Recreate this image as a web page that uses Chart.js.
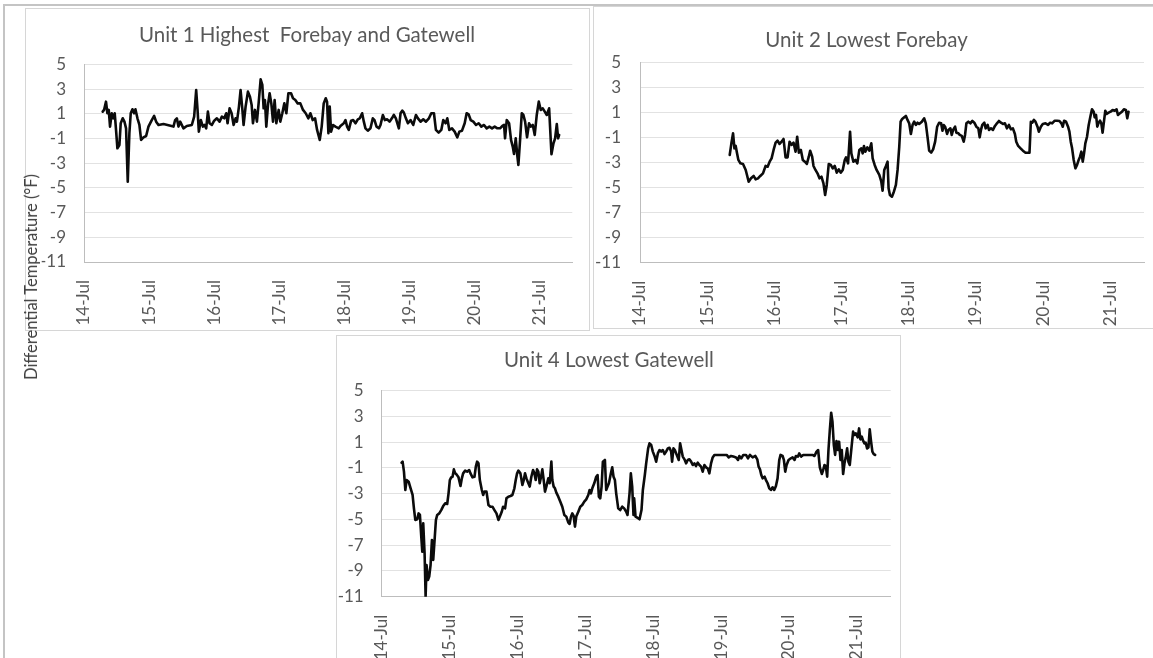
<!DOCTYPE html>
<html>
<head>
<meta charset="utf-8">
<script src="https://cdn.jsdelivr.net/npm/chart.js@4.4.1/dist/chart.umd.min.js"></script>
<style>
  html, body { margin: 0; padding: 0; background: #fff; overflow: hidden; }
  #page { position: relative; width: 1153px; height: 658px; overflow: hidden; background: #fff; font-family: Lato, sans-serif; }
  .rule { position: absolute; background: #c4c4c4; }
  .frame { position: absolute; box-sizing: border-box; border: 1px solid #d6d6d6; background: #fff; }
  canvas { position: absolute; }
  #ytitle { position: absolute; left: 31px; top: 277px; transform: translate(-50%, -50%) rotate(-90deg);
            white-space: nowrap; font-size: 16.5px; color: #404040; font-family: Lato, sans-serif; }
</style>
</head>
<body>
<div id="page">
  <div class="rule" style="left:4px; top:4px; width:1149px; height:2px;"></div>
  <div class="rule" style="left:3px; top:4px; width:2px; height:654px;"></div>

  <div class="frame" style="left:25px; top:8px; width:565px; height:323px;"></div>
  <div class="frame" style="left:593px; top:6px; width:600px; height:323px;"></div>
  <div class="frame" style="left:336px; top:335px; width:565px; height:340px;"></div>

  <canvas id="unit1" width="564" height="322" style="left:25px; top:8px;"></canvas>
  <canvas id="unit2" width="573" height="320" style="left:580px; top:8px;"></canvas>
  <canvas id="unit4" width="582" height="323" style="left:318px; top:335px;"></canvas>

  <div id="ytitle">Differential Temperature (°F)</div>
</div>

<script>
// Axis labels
const tickDates = ['14-Jul', '15-Jul', '16-Jul', '17-Jul', '18-Jul', '19-Jul', '20-Jul', '21-Jul'];
const yTicks = [5, 3, 1, -1, -3, -5, -7, -9, -11];
const chartTitles = ['Unit 1 Highest  Forebay and Gatewell', 'Unit 2 Lowest Forebay', 'Unit 4 Lowest Gatewell'];

// Unit 1: days after 14-Jul 00:00, differential temperature (°F)
const unit1Day = [
  0.287,0.308,0.338,0.359,0.380,0.400,0.426,0.451,0.472,0.492,
  0.513,0.544,0.564,0.595,0.621,0.646,0.672,0.697,0.718,0.744,
  0.769,0.790,0.821,0.851,0.877,0.913,0.954,0.990,1.041,1.077,
  1.108,1.144,1.221,1.298,1.374,1.400,1.426,1.451,1.477,1.528,
  1.579,1.656,1.692,1.723,1.744,1.764,1.795,1.826,1.851,1.877,
  1.903,1.928,1.964,2.000,2.041,2.082,2.118,2.154,2.185,2.205,
  2.236,2.267,2.298,2.328,2.349,2.380,2.405,2.431,2.451,2.482,
  2.518,2.549,2.575,2.595,2.626,2.656,2.682,2.713,2.739,2.759,
  2.779,2.800,2.826,2.851,2.877,2.903,2.928,2.954,2.990,3.015,
  3.046,3.077,3.108,3.139,3.180,3.210,3.246,3.282,3.323,3.364,
  3.405,3.446,3.477,3.513,3.549,3.580,3.621,3.651,3.682,3.713,
  3.733,3.754,3.774,3.795,3.826,3.862,3.913,3.939,3.990,4.016,
  4.041,4.067,4.103,4.134,4.170,4.206,4.236,4.272,4.298,4.323,
  4.359,4.400,4.436,4.462,4.493,4.529,4.554,4.590,4.621,4.657,
  4.693,4.729,4.759,4.790,4.836,4.862,4.888,4.913,4.944,4.975,
  5.016,5.057,5.098,5.129,5.170,5.211,5.252,5.298,5.334,5.375,
  5.405,5.447,5.488,5.518,5.554,5.580,5.611,5.652,5.693,5.734,
  5.765,5.806,5.847,5.877,5.908,5.939,5.980,6.021,6.062,6.103,
  6.144,6.185,6.226,6.267,6.308,6.349,6.390,6.426,6.452,6.467,
  6.493,6.529,6.559,6.585,6.605,6.631,6.657,6.672,6.698,6.724,
  6.749,6.775,6.805,6.836,6.862,6.893,6.923,6.954,6.985,7.015,
  7.046,7.077,7.108,7.144,7.180,7.211,7.236,7.262,7.282,7.298
];
const unit1Temp = [
  1.18,1.32,1.99,1.05,1.32,-0.03,1.05,0.64,1.05,-0.30,
  -1.79,-1.52,0.24,0.64,0.37,-0.17,-4.49,-0.57,1.05,1.37,
  1.05,1.37,0.64,0.10,-1.11,-0.90,-0.79,-0.03,0.50,0.83,
  0.37,0.10,0.18,0.07,-0.03,0.50,0.64,-0.03,0.37,-0.17,
  0.02,0.10,0.78,2.93,1.32,-0.44,0.50,-0.03,0.10,-0.17,
  1.18,0.24,0.10,0.45,0.64,0.37,0.78,0.64,1.05,0.24,
  1.45,1.05,0.10,0.64,0.37,1.59,2.93,1.45,0.10,1.59,
  2.80,2.39,1.72,0.24,1.32,0.37,1.85,3.80,3.34,1.45,
  2.12,-0.03,1.72,2.67,1.85,0.37,2.12,0.24,1.32,0.37,
  1.05,1.85,1.05,2.67,2.67,2.26,2.12,1.85,1.85,1.32,
  1.05,0.64,1.05,0.50,0.64,-0.30,-1.11,-0.03,1.85,2.26,
  1.99,-0.57,1.59,-0.44,0.10,-0.03,-0.17,0.02,0.24,0.50,
  -0.03,-0.30,0.45,0.50,0.24,0.56,0.64,1.05,0.37,-0.17,
  -0.36,-0.17,0.64,0.50,-0.03,-0.17,0.10,0.91,0.50,0.56,
  0.37,0.64,0.91,0.64,-0.17,1.05,1.26,1.10,0.64,0.24,
  0.50,0.10,0.91,0.64,0.37,0.56,0.37,0.64,1.05,1.05,
  -0.30,-0.52,-0.30,0.50,0.24,0.64,-0.30,-0.17,-0.44,-0.90,
  -0.44,-0.36,0.24,1.05,0.96,0.50,0.37,0.10,0.24,-0.03,
  0.10,-0.17,-0.03,-0.17,-0.03,-0.17,-0.17,0.02,0.10,-0.98,
  0.50,0.24,-1.11,-1.65,-2.25,-0.98,-2.46,-3.14,-1.11,1.05,
  0.91,0.37,-0.90,0.24,-0.03,0.10,-0.71,0.91,1.99,1.32,
  1.45,1.18,0.91,1.45,-2.27,-1.38,-0.98,0.18,-0.98,-0.71
];

// Unit 2
const unit2Day = [
  1.335,1.360,1.385,1.405,1.424,1.444,1.464,1.494,1.533,1.573,
  1.592,1.617,1.652,1.691,1.721,1.756,1.790,1.830,1.869,1.899,
  1.929,1.958,1.988,2.018,2.047,2.077,2.107,2.136,2.166,2.196,
  2.226,2.255,2.285,2.315,2.339,2.364,2.394,2.423,2.453,2.483,
  2.512,2.532,2.562,2.582,2.611,2.641,2.671,2.700,2.730,2.755,
  2.779,2.809,2.839,2.868,2.898,2.928,2.958,2.987,3.017,3.047,
  3.066,3.096,3.126,3.145,3.175,3.205,3.234,3.264,3.294,3.314,
  3.333,3.353,3.383,3.412,3.442,3.462,3.492,3.521,3.561,3.591,
  3.610,3.635,3.660,3.684,3.699,3.719,3.749,3.778,3.808,3.833,
  3.858,3.878,3.897,3.932,3.957,3.981,4.006,4.031,4.056,4.080,
  4.105,4.130,4.154,4.194,4.229,4.253,4.278,4.303,4.333,4.362,
  4.392,4.422,4.451,4.481,4.501,4.520,4.540,4.570,4.590,4.619,
  4.639,4.659,4.689,4.708,4.738,4.758,4.788,4.817,4.837,4.857,
  4.886,4.916,4.946,4.975,5.005,5.035,5.055,5.074,5.094,5.124,
  5.144,5.173,5.193,5.223,5.252,5.282,5.312,5.341,5.371,5.401,
  5.430,5.460,5.490,5.519,5.549,5.579,5.599,5.628,5.663,5.698,
  5.737,5.777,5.796,5.816,5.836,5.861,5.885,5.915,5.935,5.965,
  5.994,6.034,6.073,6.103,6.133,6.172,6.207,6.242,6.271,6.291,
  6.311,6.340,6.370,6.390,6.410,6.430,6.454,6.479,6.504,6.528,
  6.548,6.568,6.588,6.608,6.627,6.652,6.677,6.707,6.726,6.751,
  6.766,6.786,6.805,6.825,6.845,6.865,6.884,6.904,6.924,6.944,
  6.973,7.003,7.033,7.063,7.092,7.112,7.142,7.172,7.201,7.231,
  7.251,7.270
];
const unit2Temp = [
  -2.38,-1.45,-0.65,-1.85,-1.66,-2.25,-2.78,-3.05,-3.10,-3.58,
  -3.98,-4.52,-4.25,-4.06,-4.33,-4.25,-4.06,-3.85,-3.26,-3.32,
  -2.92,-2.65,-1.98,-1.40,-1.24,-1.50,-1.32,-1.10,-2.57,-2.57,
  -1.32,-1.58,-1.40,-2.12,-0.92,-2.20,-1.98,-2.78,-2.92,-3.10,
  -2.52,-2.04,-2.52,-3.26,-3.58,-3.85,-4.25,-4.12,-4.65,-5.58,
  -4.78,-3.10,-3.18,-3.45,-3.26,-3.80,-3.53,-3.80,-3.58,-2.78,
  -2.57,-3.05,-0.52,-2.25,-2.92,-2.78,-3.05,-1.98,-1.85,-2.25,
  -1.66,-2.12,-1.77,-2.04,-1.45,-2.65,-3.18,-3.58,-3.98,-4.52,
  -5.24,-3.58,-3.26,-2.92,-5.05,-5.58,-5.72,-5.32,-4.78,-3.58,
  -1.72,0.28,0.47,0.63,0.74,0.42,0.15,-0.70,0.02,0.28,
  0.02,0.20,0.10,0.28,0.55,0.15,-0.92,-2.04,-2.20,-1.93,
  -1.32,-0.12,0.20,0.15,-0.44,0.02,-0.12,-0.70,-0.38,-0.25,
  -0.78,-0.38,-0.12,-0.60,-0.65,-0.78,-0.86,-1.32,-0.78,0.15,
  0.28,0.15,0.34,0.20,-0.12,-0.25,-0.97,-0.38,0.02,0.20,
  -0.25,0.02,-0.38,-0.25,-0.38,-0.06,0.15,0.34,0.20,0.10,
  0.15,-0.25,0.02,-0.33,-0.25,-0.70,-1.32,-1.66,-1.85,-2.04,
  -2.20,-2.20,-2.20,0.28,0.20,0.42,0.28,-0.12,-0.52,-0.12,
  0.10,0.15,0.02,0.20,0.15,0.36,0.36,0.34,0.15,-0.12,
  0.36,0.28,-0.12,-0.52,-1.32,-1.85,-2.78,-3.45,-3.18,-2.78,
  -2.52,-2.12,-2.92,-2.25,-1.45,-0.92,0.02,0.82,1.27,1.08,
  0.63,0.82,-0.12,0.20,0.36,0.15,-0.60,0.28,1.16,0.90,
  1.00,1.08,1.22,1.16,1.27,0.82,0.95,1.08,1.27,1.22,
  0.55,1.08
];

// Unit 4
const unit4Day = [
  0.294,0.308,0.328,0.348,0.367,0.397,0.426,0.455,0.475,0.495,
  0.524,0.544,0.563,0.583,0.598,0.612,0.632,0.647,0.661,0.681,
  0.700,0.720,0.740,0.759,0.779,0.799,0.818,0.848,0.877,0.906,
  0.936,0.965,0.985,1.004,1.024,1.044,1.063,1.083,1.102,1.132,
  1.161,1.181,1.200,1.230,1.259,1.289,1.308,1.338,1.367,1.387,
  1.406,1.426,1.446,1.475,1.495,1.514,1.544,1.573,1.602,1.632,
  1.661,1.691,1.720,1.750,1.769,1.789,1.818,1.838,1.867,1.897,
  1.926,1.955,1.975,1.995,2.014,2.044,2.073,2.093,2.112,2.132,
  2.161,2.181,2.205,2.230,2.250,2.269,2.289,2.308,2.328,2.348,
  2.367,2.387,2.406,2.426,2.455,2.475,2.500,2.514,2.534,2.553,
  2.573,2.602,2.632,2.661,2.691,2.720,2.750,2.769,2.789,2.808,
  2.828,2.848,2.867,2.897,2.926,2.955,2.985,3.014,3.044,3.063,
  3.083,3.103,3.132,3.161,3.181,3.200,3.220,3.240,3.259,3.289,
  3.308,3.328,3.348,3.377,3.397,3.416,3.436,3.455,3.485,3.514,
  3.544,3.573,3.603,3.622,3.652,3.671,3.691,3.710,3.720,3.740,
  3.759,3.779,3.799,3.828,3.848,3.877,3.897,3.926,3.946,3.971,
  3.995,4.020,4.044,4.069,4.093,4.118,4.142,4.167,4.191,4.216,
  4.240,4.265,4.279,4.299,4.319,4.348,4.377,4.397,4.417,4.436,
  4.461,4.485,4.510,4.534,4.559,4.583,4.608,4.632,4.657,4.681,
  4.706,4.730,4.755,4.779,4.804,4.828,4.853,4.877,4.902,4.951,
  5.000,5.049,5.083,5.113,5.147,5.181,5.221,5.250,5.270,5.299,
  5.328,5.368,5.397,5.426,5.466,5.505,5.534,5.554,5.574,5.593,
  5.613,5.642,5.662,5.686,5.711,5.735,5.760,5.784,5.809,5.833,
  5.858,5.877,5.907,5.926,5.946,5.966,5.995,6.029,6.054,6.083,
  6.103,6.132,6.152,6.181,6.211,6.250,6.299,6.348,6.377,6.407,
  6.431,6.456,6.485,6.505,6.524,6.544,6.564,6.583,6.603,6.623,
  6.642,6.662,6.681,6.701,6.721,6.740,6.760,6.779,6.799,6.819,
  6.838,6.858,6.877,6.897,6.926,6.946,6.966,6.985,7.015,7.034,
  7.054,7.074,7.093,7.113,7.132,7.152,7.172,7.191,7.211,7.230,
  7.250,7.270
];
const unit4Temp = [
  -0.59,-0.51,-1.29,-2.71,-1.94,-2.07,-2.58,-3.10,-4.14,-5.04,
  -4.99,-4.53,-4.65,-6.34,-7.50,-5.30,-7.63,-11.0,-8.54,-9.70,
  -9.44,-8.54,-6.60,-8.15,-6.60,-5.04,-4.65,-4.53,-4.27,-3.96,
  -3.75,-3.80,-2.97,-1.94,-1.73,-1.68,-1.11,-1.42,-1.50,-1.73,
  -2.40,-1.81,-1.42,-1.21,-1.29,-1.16,-1.42,-1.73,-1.68,-0.90,
  -0.51,-0.64,-1.94,-2.71,-3.10,-2.84,-2.84,-3.88,-4.01,-4.01,
  -4.27,-4.53,-5.04,-4.65,-4.40,-4.01,-4.14,-3.36,-3.23,-3.18,
  -3.10,-2.58,-1.94,-1.42,-1.21,-1.42,-2.32,-1.94,-1.42,-1.81,
  -2.19,-2.45,-1.68,-1.16,-1.42,-1.94,-1.11,-1.29,-2.19,-1.68,
  -1.11,-1.94,-2.84,-2.45,-1.81,-2.19,-0.51,-1.94,-2.45,-2.58,
  -2.92,-3.23,-3.62,-4.01,-4.65,-4.78,-5.25,-5.35,-4.78,-4.53,
  -4.73,-5.56,-4.78,-4.40,-4.01,-3.88,-3.62,-3.44,-3.10,-2.71,
  -2.97,-2.58,-2.19,-1.68,-1.55,-3.23,-3.36,-2.45,-0.51,-0.38,
  -2.71,-2.45,-2.19,-1.42,-0.95,-1.68,-1.94,-2.97,-4.14,-4.27,
  -4.01,-4.14,-4.40,-4.65,-2.97,-1.42,-2.45,-4.65,-3.36,-4.78,
  -4.84,-4.91,-4.99,-4.27,-2.71,-1.55,-0.64,0.52,0.91,0.78,
  0.27,-0.07,-0.51,0.13,0.39,0.27,0.39,0.08,0.27,0.52,
  0.57,0.27,-0.51,0.52,0.39,0.01,-0.38,0.91,0.39,-0.12,
  -0.33,-0.64,-0.38,-0.33,-0.51,-0.77,-0.64,-0.85,-0.59,-0.77,
  -0.90,-1.29,-0.77,-0.95,-1.03,-1.42,-0.64,-0.18,0.01,0.01,
  0.01,0.01,0.01,-0.18,-0.07,-0.12,-0.18,-0.38,-0.07,-0.25,
  0.01,0.01,-0.25,0.01,-0.18,-0.07,-0.33,-0.90,-1.11,-1.55,
  -1.81,-1.68,-1.94,-2.19,-2.58,-2.71,-2.50,-2.71,-2.40,-1.81,
  -0.38,0.01,-0.07,-0.38,-1.29,-0.77,-0.38,-0.25,-0.18,-0.38,
  -0.07,-0.12,0.13,-0.12,0.01,0.01,0.01,0.01,-0.07,0.27,
  0.39,-0.95,-1.47,-1.16,-0.77,-0.85,-1.68,0.39,1.95,3.29,
  2.59,0.78,0.01,1.09,0.39,1.04,-0.38,0.39,-1.47,-0.64,
  -0.18,0.52,-0.51,-0.77,0.78,1.82,1.56,1.69,1.38,2.07,
  1.22,1.43,1.12,0.91,0.96,0.52,0.60,2.00,1.04,0.27,
  0.08,0.01
];

const FONT = 'Lato';
const TEXT = '#595959';
const GRID = '#e2e2e2';
const AXIS = '#bdbdbd';

// geo: plot-area edges inside the canvas (plotLeft, padRight) and title placement.
// Equal left/right layout padding keeps the title centred on the canvas.
function buildChart(id, days, temps, title, geo) {
  const points = days.map((d, i) => ({ x: d, y: temps[i] }));
  return new Chart(document.getElementById(id), {
    type: 'line',
    data: {
      datasets: [{
        data: points,
        borderColor: '#0b0b0b',
        borderWidth: 2.6,
        borderJoinStyle: 'round',
        borderCapStyle: 'round',
        pointRadius: 0,
        tension: 0,
        fill: false
      }]
    },
    options: {
      responsive: false,
      animation: false,
      events: [],
      layout: { padding: { left: geo.padRight, right: geo.padRight, top: 0, bottom: 0 } },
      plugins: {
        legend: { display: false },
        tooltip: { enabled: false },
        title: {
          display: true,
          text: title,
          color: TEXT,
          font: { family: FONT, size: 20.5, weight: 'normal', lineHeight: 1.2 },
          padding: { top: geo.titleTop, bottom: geo.titleBottom }
        }
      },
      scales: {
        x: {
          type: 'linear',
          min: 0,
          max: 7.5,
          grid: { display: false },
          border: { display: true, color: AXIS, width: 1 },
          ticks: {
            autoSkip: false,
            minRotation: 90,
            maxRotation: 90,
            padding: 10,
            color: TEXT,
            font: { family: FONT, size: 17 },
            callback: (v) => tickDates[v]
          },
          afterBuildTicks: (s) => { s.ticks = tickDates.map((_, i) => ({ value: i })); },
          afterFit: (s) => { s.height = geo.axisHeight; }
        },
        y: {
          min: yTicks[yTicks.length - 1],
          max: yTicks[0],
          grid: { color: GRID, lineWidth: 1, drawTicks: false },
          border: { display: true, color: AXIS, width: 1 },
          ticks: {
            padding: geo.labelGap,
            color: TEXT,
            font: { family: FONT, size: 17 }
          },
          afterBuildTicks: (s) => { s.ticks = yTicks.map((v) => ({ value: v })); },
          afterFit: (s) => { s.width = geo.plotLeft - geo.padRight; }
        }
      }
    }
  });
}

buildChart('unit1', unit1Day, unit1Temp, chartTitles[0],
  { plotLeft: 59, padRight: 16.7, titleTop: 14.7, titleBottom: 17.2, axisHeight: 68, labelGap: 18 });
buildChart('unit2', unit2Day, unit2Temp, chartTitles[1],
  { plotLeft: 60, padRight: 9, titleTop: 19.7, titleBottom: 10.4, axisHeight: 65.3, labelGap: 19 });
buildChart('unit4', unit4Day, unit4Temp, chartTitles[2],
  { plotLeft: 63.7, padRight: 9.3, titleTop: 12.7, titleBottom: 18.4, axisHeight: 61.3, labelGap: 18 });
</script>
</body>
</html>
